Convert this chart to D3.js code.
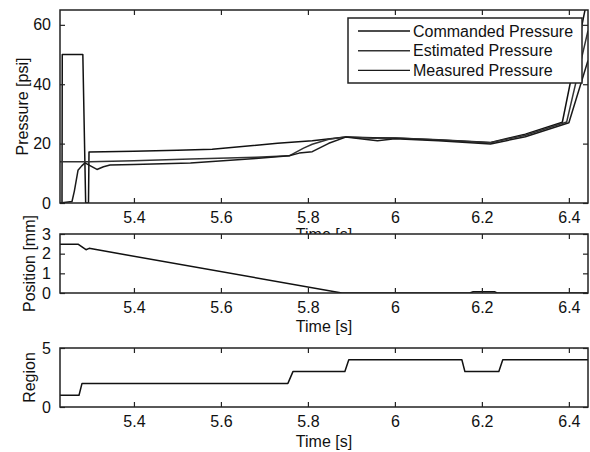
<!DOCTYPE html>
<html>
<head>
<meta charset="utf-8">
<script src="https://cdn.jsdelivr.net/npm/d3@7"></script>
<style>
  body { margin: 0; background: #fff; }
  svg { font-family: 'Liberation Sans', Arial, sans-serif; }
  .tick text { font-size: 16px; fill: #111; }
  .tick line { stroke: #222; stroke-width: 1.2; }
</style>
</head>
<body>
<svg id="chart" width="590" height="452"></svg>
<script>
// time axis shared by all three panels
const timeDomain = [5.23, 6.444];
const timeTicks = [5.4, 5.6, 5.8, 6, 6.2, 6.4];

const pressureTicks = [0, 20, 40, 60];
const positionTicks = [0, 1, 2, 3];
const regionTicks = [0, 5];

const legendLabels = ['Commanded Pressure', 'Estimated Pressure', 'Measured Pressure'];

// [time, psi]
const commandedPressure = [
  [5.23, 0], [5.2346, 0], [5.2352, 50], [5.2825, 50], [5.289, 0], [5.2955, 0],
  [5.2967, 17.2], [5.4, 17.4], [5.5, 17.8], [5.58, 18.1], [5.73, 20.1],
  [5.81, 21.0], [5.887, 22.2], [5.95, 22.0], [6.0, 21.9], [6.1, 21.3],
  [6.22, 20.4], [6.3, 23.2], [6.385, 27.2], [6.444, 70]
];
const estimatedPressure = [
  [5.23, 13.9], [5.3, 13.9], [5.4, 14.2], [5.53, 14.8], [5.68, 15.4],
  [5.757, 15.9], [5.79, 18.5], [5.81, 19.8], [5.848, 21.5], [5.887, 22.2],
  [5.95, 21.8], [6.0, 21.9], [6.1, 21.2], [6.22, 20.3], [6.3, 22.8],
  [6.395, 27.3], [6.444, 58]
];
const measuredPressure = [
  [5.23, 0], [5.2576, 0.5], [5.263, 4], [5.2714, 11], [5.28, 12.5],
  [5.2875, 13.5], [5.3, 12.5], [5.315, 11.3], [5.33, 12.2], [5.345, 12.8],
  [5.4, 13.0], [5.53, 13.5], [5.68, 15.0], [5.757, 15.9], [5.78, 16.8],
  [5.81, 17.3], [5.848, 20.1], [5.887, 22.2], [5.93, 21.5], [5.96, 21.0],
  [6.0, 21.6], [6.1, 21.0], [6.22, 19.9], [6.3, 22.3], [6.4, 27.0], [6.444, 48]
];

// [time, mm]
const position = [
  [5.23, 2.48], [5.2714, 2.48], [5.2898, 2.2], [5.297, 2.27], [5.878, 0],
  [6.172, 0], [6.18, 0.06], [6.23, 0.06], [6.235, 0], [6.444, 0]
];

// [time, region]
const region = [
  [5.23, 1], [5.2737, 1], [5.2806, 2], [5.754, 2], [5.7656, 3], [5.885, 3],
  [5.894, 4], [6.154, 4], [6.161, 3], [6.239, 3], [6.248, 4], [6.444, 4]
];

const svg = d3.select('#chart');
const left = 60, right = 588;
const fmt = d3.format('~g');

const x = d3.scaleLinear().domain(timeDomain).range([left, right]);

const panels = [
  { top: 10, bottom: 203, domain: [0, 65], ticks: pressureTicks, label: 'Pressure [psi]', labelX: 22,
    series: [commandedPressure, estimatedPressure, measuredPressure], timeY: 240 },
  { top: 234, bottom: 293, domain: [0, 3], ticks: positionTicks, label: 'Position [mm]', labelX: 29,
    series: [position], timeY: 332 },
  { top: 348, bottom: 407, domain: [0, 5], ticks: regionTicks, label: 'Region', labelX: 29,
    series: [region], timeY: 447 }
];

const lineColors = ['#111', '#333', '#1a1a1a'];

panels.forEach(function (p, i) {
  const y = d3.scaleLinear().domain(p.domain).range([p.bottom, p.top]);
  const g = svg.append('g');

  // white background so the next panel hides the label above it
  g.append('rect')
    .attr('x', left).attr('y', p.top)
    .attr('width', right - left).attr('height', p.bottom - p.top)
    .attr('fill', '#fff');

  g.append('clipPath').attr('id', 'clip' + i)
    .append('rect')
    .attr('x', left).attr('y', p.top)
    .attr('width', right - left).attr('height', p.bottom - p.top);

  const line = d3.line().x(d => x(d[0])).y(d => y(d[1]));

  g.append('g').attr('clip-path', 'url(#clip' + i + ')')
    .selectAll('path')
    .data(p.series)
    .join('path')
    .attr('d', line)
    .attr('fill', 'none')
    .attr('stroke', (d, j) => lineColors[j])
    .attr('stroke-width', 1.5)
    .attr('stroke-linejoin', 'round');

  // ticks point inwards on all four sides
  g.append('g')
    .attr('transform', `translate(0,${p.bottom})`)
    .call(d3.axisBottom(x).tickValues(timeTicks).tickFormat(fmt).tickSize(-5).tickSizeOuter(0).tickPadding(9))
    .call(a => a.select('.domain').remove());
  g.append('g')
    .attr('transform', `translate(0,${p.top})`)
    .call(d3.axisTop(x).tickValues(timeTicks).tickSize(-5).tickSizeOuter(0).tickFormat(''))
    .call(a => a.select('.domain').remove());
  g.append('g')
    .attr('transform', `translate(${left},0)`)
    .call(d3.axisLeft(y).tickValues(p.ticks).tickFormat(fmt).tickSize(-5).tickSizeOuter(0).tickPadding(9))
    .call(a => a.select('.domain').remove());
  g.append('g')
    .attr('transform', `translate(${right},0)`)
    .call(d3.axisRight(y).tickValues(p.ticks).tickSize(-5).tickSizeOuter(0).tickFormat(''))
    .call(a => a.select('.domain').remove());

  g.append('rect')
    .attr('x', left).attr('y', p.top)
    .attr('width', right - left).attr('height', p.bottom - p.top)
    .attr('fill', 'none').attr('stroke', '#222').attr('stroke-width', 1.5);

  g.append('text')
    .attr('transform', `translate(${p.labelX},${(p.top + p.bottom) / 2}) rotate(-90)`)
    .attr('text-anchor', 'middle')
    .attr('dy', '0.35em')
    .attr('font-size', 16)
    .attr('fill', '#111')
    .text(p.label);

  g.append('text')
    .attr('x', 324).attr('y', p.timeY)
    .attr('text-anchor', 'middle')
    .attr('font-size', 16)
    .attr('fill', '#111')
    .text('Time [s]');
});

// legend
const legend = svg.append('g');
legend.append('rect')
  .attr('x', 348).attr('y', 18).attr('width', 234).attr('height', 65)
  .attr('fill', '#fff').attr('stroke', '#222').attr('stroke-width', 1.5);

legend.selectAll('g.item')
  .data(legendLabels)
  .join('g')
  .attr('class', 'item')
  .attr('transform', (d, i) => `translate(0,${31 + i * 19.7})`)
  .each(function (d, i) {
    const item = d3.select(this);
    item.append('line')
      .attr('x1', 358).attr('x2', 410)
      .attr('stroke', lineColors[i]).attr('stroke-width', 1.4);
    item.append('text')
      .attr('x', 413).attr('dy', '0.36em')
      .attr('font-size', 16).attr('fill', '#111')
      .text(d);
  });
</script>
</body>
</html>
